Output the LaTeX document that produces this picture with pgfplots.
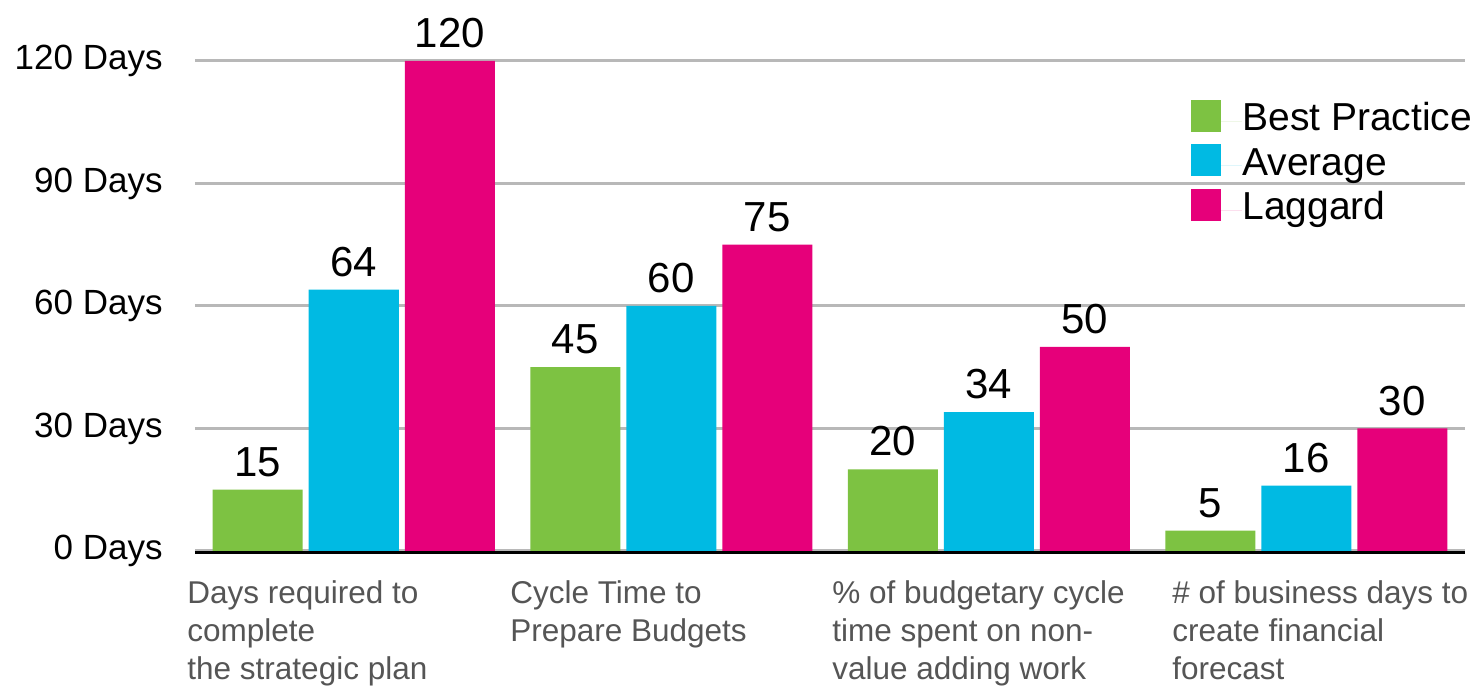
\documentclass[border=0pt]{standalone}
\usepackage{pgfplots}
\pgfplotsset{compat=1.18}
\usepackage{fontspec}
\setmainfont{Liberation Sans}
\definecolor{cgreen}{HTML}{7DC242}
\definecolor{cblue}{HTML}{00BAE3}
\definecolor{cmag}{HTML}{E6007A}
\definecolor{cgrid}{HTML}{B8B8B8}
\definecolor{ctext}{HTML}{555555}
\begin{document}
\begin{tikzpicture}
\path[use as bounding box] (-97.5pt,-68.5pt) rectangle (641pt,275.5pt);
\begin{axis}[
  at={(0pt,0pt)}, anchor=south west,
  width=635pt, height=245pt, scale only axis,
  xmin=-0.5, xmax=3.5, ymin=0, ymax=120,
  ybar=3pt, bar width=45pt,
  xtick=\empty,
  ytick={0,30,60,90,120},
  yticklabels={0 Days,30 Days,60 Days,90 Days,120 Days},
  ymajorgrids, grid style={cgrid, line width=1.5pt},
  major tick length=0pt,
  axis x line*=bottom, axis y line*=left,
  x axis line style={black, line width=1.5pt, -, yshift=-0.75pt},
  y axis line style={draw=none},
  yticklabel style={font=\fontsize{17.5}{20}\selectfont, inner sep=0pt, xshift=-16pt},
  nodes near coords,
  every node near coord/.append style={font=\fontsize{21}{24}\selectfont, black, yshift=3pt},
  /pgf/number format/assume math mode=true,
  clip=false,
  legend cell align=left,
  legend style={draw=none, fill=none, at={(0.7843,0.920)}, anchor=north west,
    font=\fontsize{19.5}{22}\selectfont, inner sep=0pt, row sep=2.25pt,
    nodes={inner sep=0pt, text height=15pt, text depth=5pt}},
  legend image code/.code={\path (0pt,0pt) rectangle (25.5pt,0pt);
    \fill[#1, overlay] (0pt,-5.5pt) rectangle (15pt,10.5pt);},
]
\addplot[fill=cgreen, draw=none] coordinates {(0,15) (1,45) (2,20) (3,5)};
\addplot[fill=cblue, draw=none] coordinates {(0,64) (1,60) (2,34) (3,16)};
\addplot[fill=cmag, draw=none] coordinates {(0,120) (1,75) (2,50) (3,30)};
\legend{Best Practice, Average, Laggard}
\node[anchor=north west, align=left, inner sep=0pt, text=ctext, font=\fontsize{15.75}{19}\selectfont, yshift=-14.5pt] at (axis cs:-0.525,0) {Days required to\\complete\\the strategic plan};
\node[anchor=north west, align=left, inner sep=0pt, text=ctext, font=\fontsize{15.75}{19}\selectfont, yshift=-14.5pt] at (axis cs:0.492,0) {Cycle Time to\\Prepare Budgets};
\node[anchor=north west, align=left, inner sep=0pt, text=ctext, font=\fontsize{15.75}{19}\selectfont, yshift=-14.5pt] at (axis cs:1.506,0) {\% of budgetary cycle\\time spent on non-\\value adding work};
\node[anchor=north west, align=left, inner sep=0pt, text=ctext, font=\fontsize{15.75}{19}\selectfont, yshift=-14.5pt] at (axis cs:2.577,0) {\# of business days to\\create financial\\forecast};
\end{axis}
\end{tikzpicture}
\end{document}
